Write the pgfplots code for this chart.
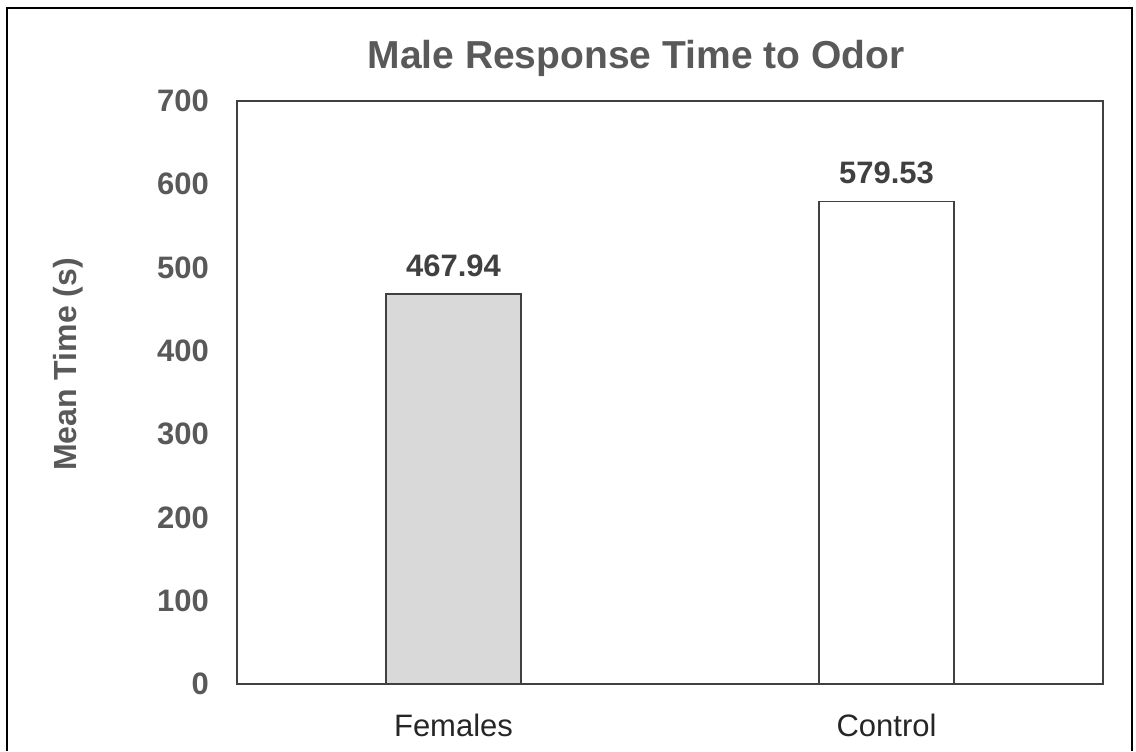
\documentclass[border=0pt]{standalone}
\usepackage{pgfplots}
\pgfplotsset{compat=1.18}
\usepackage{fontspec}
\setmainfont{Liberation Sans}
\definecolor{axisgray}{HTML}{404040}
\definecolor{labelgray}{HTML}{595959}
\definecolor{barfill}{HTML}{D9D9D9}
\definecolor{textdark}{HTML}{262626}

\begin{document}
\begin{tikzpicture}
% canvas: 568pt x 375.5pt
\useasboundingbox (0,0) rectangle (568pt,375.5pt);
% outer chart frame
\draw[black, line width=1.2pt] (3.5pt,0) -- (3.5pt,371.5pt) -- (566pt,371.5pt) -- (566pt,0);
\begin{axis}[
  at={(118.5pt,33.5pt)}, anchor=south west,
  scale only axis,
  width=433pt, height=291.5pt,
  xmin=-0.5, xmax=1.5,
  ymin=0, ymax=700,
  ytick={0,100,...,700},
  xtick={0,1},
  xticklabels={Females, Control},
  major tick length=0pt,
  axis line style={axisgray, line width=0.8pt},
  ybar, bar shift=0pt,
  bar width=0.312,
  yticklabel style={font=\fontsize{15.5}{18}\selectfont\bfseries, text=labelgray},
  yticklabel shift=10.5pt,
  xticklabel style={font=\fontsize{15.5}{18}\selectfont, text=textdark},
  xticklabel shift=11.5pt,
  /pgf/number format/assume math mode=true,
  title={Male Response Time to Odor},
  title style={font=\fontsize{19.5}{23}\selectfont\bfseries, text=labelgray, yshift=2.5pt, xshift=-17pt},
  ylabel={Mean Time (s)},
  ylabel style={font=\fontsize{16}{19}\selectfont\bfseries, text=labelgray, yshift=30pt, xshift=14pt},
  nodes near coords,
  nodes near coords style={font=\fontsize{15.5}{18}\selectfont\bfseries, text=axisgray, yshift=5pt},
  point meta=explicit symbolic,
]
\addplot[fill=barfill, draw=axisgray, line width=0.8pt] coordinates {(0,467.94) [467.94]};
\addplot[fill=white, draw=axisgray, line width=0.8pt] coordinates {(1,579.53) [579.53]};
\end{axis}
\end{tikzpicture}
\end{document}
